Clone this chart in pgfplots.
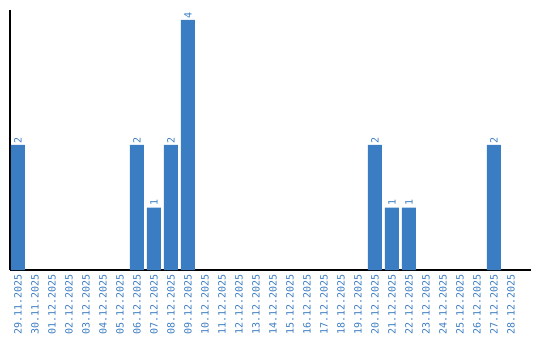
\documentclass[border=0pt]{standalone}
\usepackage{pgfplots}
\pgfplotsset{compat=1.18}
\usepackage{fontspec}
\setmainfont{DejaVu Sans Mono}
\usetikzlibrary{calc}
\definecolor{barblue}{RGB}{59,125,195}
\begin{document}
\begin{tikzpicture}
\begin{axis}[
  scale only axis,
  width=521pt, height=260pt,
  xmin=-0.47, xmax=30.18,
  ymin=0, ymax=4.16,
  axis x line=bottom, axis y line=left,
  axis line style={-, black, line width=1.2pt},
  ytick=\empty,
  xtick={0,...,29},
  xticklabels={29.11.2025,30.11.2025,01.12.2025,02.12.2025,03.12.2025,04.12.2025,05.12.2025,06.12.2025,07.12.2025,08.12.2025,09.12.2025,10.12.2025,11.12.2025,12.12.2025,13.12.2025,14.12.2025,15.12.2025,16.12.2025,17.12.2025,18.12.2025,19.12.2025,20.12.2025,21.12.2025,22.12.2025,23.12.2025,24.12.2025,25.12.2025,26.12.2025,27.12.2025,28.12.2025},
  major tick length=0pt,
  xticklabel style={rotate=90, anchor=east, font=\fontsize{10}{10}\selectfont, text=barblue, inner sep=4pt},
  ybar, bar width=14pt,
  /pgf/number format/assume math mode=true,
  point meta=explicit symbolic,
  nodes near coords={\fontsize{10}{10}\selectfont\pgfplotspointmeta},
  nodes near coords style={rotate=90, anchor=west, text=barblue, inner sep=1.5pt, scale=1},
  clip=false,
]
\addplot[fill=barblue, draw=none] coordinates {
 (0,2) [2] (7,2) [2] (8,1) [1] (9,2) [2] (10,4) [4] (21,2) [2] (22,1) [1] (23,1) [1] (28,2) [2]
};
\end{axis}
\path ($(current axis.south west)+(-10pt,-70pt)$) rectangle ($(current axis.north east)+(9pt,10pt)$);
\end{tikzpicture}
\end{document}
